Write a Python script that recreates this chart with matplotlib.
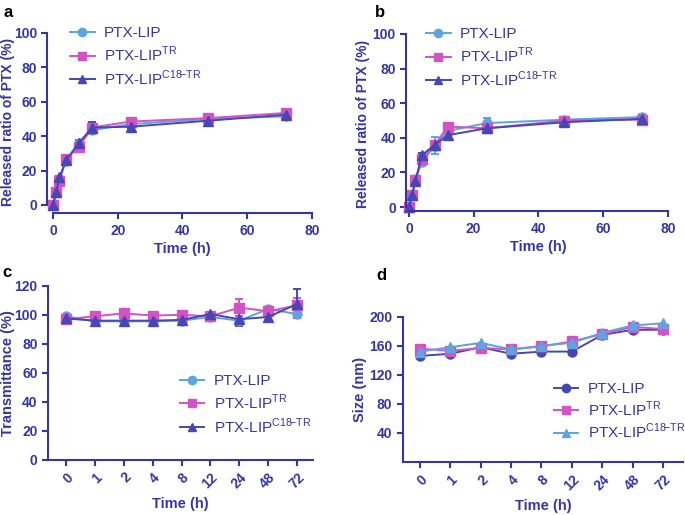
import matplotlib
matplotlib.use("Agg")
import matplotlib.pyplot as plt
from matplotlib.lines import Line2D

plt.rcParams['font.family'] = ['Liberation Sans', 'DejaVu Sans']
plt.rcParams['mathtext.fontset'] = 'custom'
plt.rcParams['mathtext.rm'] = 'Liberation Sans'

AX = '#3535a5'
LIGHT = '#5fa3df'
MAG = '#d453c4'
DARK = '#4646b4'

# release study (a, b)
t_rel = [0, 1, 2, 4, 8, 12, 24, 48, 72]
a_lip = [0, 7.5, 15, 25.5, 36, 43.5, 47, 50, 51.5]
a_tr = [0, 7.5, 14, 27, 33.5, 45, 48.5, 50.5, 53.5]
a_c18 = [0, 7.5, 16, 26, 36, 45, 45.5, 49, 52.5]
a_lip_err = [0, 1, 1.5, 1.5, 1.5, 1.5, 2, 2, 2]
a_tr_err = [0, 1, 1.5, 1.5, 2, 2, 2, 2, 2]
a_c18_err = [0, 1, 1, 1, 1.5, 3, 1.5, 1.5, 1.5]

b_lip = [0, 7, 16, 26, 35.5, 44, 48.5, 50.5, 52]
b_tr = [0, 7, 15.5, 28, 36, 46.5, 45.5, 50, 50.5]
b_c18 = [0, 7, 15, 30, 36, 41.5, 45.5, 49, 51]
b_lip_err = [0, 1, 2, 2, 5, 3, 3, 1.5, 2]
b_tr_err = [0, 1, 1.5, 1.5, 2, 2, 2, 1.5, 2.5]
b_c18_err = [0, 1, 1, 1, 2, 1.5, 1.5, 1.5, 1.5]

# stability (c, d)
t_cat = ['0', '1', '2', '4', '8', '12', '24', '48', '72']
c_lip = [99, 95.5, 95.5, 95.5, 96, 98.5, 96, 104, 100.5]
c_tr = [97, 99, 101, 99.5, 100, 99, 105, 102.5, 106.5]
c_c18 = [97.5, 96, 96, 96, 96.5, 100.5, 97, 98.5, 107.5]
c_lip_err = [1, 1, 1, 1, 1, 1, 1, 1, 1]
c_tr_err = [1, 1, 1, 1, 1, 1, 6, 1, 5]
c_c18_err = [1, 1, 1, 1, 1, 1, 5, 2, 10]

d_lip = [146, 149, 158, 149, 152, 152, 175, 182, 182]
d_tr = [156, 153, 157, 155, 159, 166, 176, 186, 183]
d_c18 = [152, 158, 164, 155, 160, 164, 178, 188, 191]

lab_lip = 'PTX-LIP'
lab_tr = r'PTX-LIP$^{\mathregular{TR}}$'
lab_c18 = r'PTX-LIP$^{\mathregular{C18}\!\mathregular{-TR}}$'

fig = plt.figure(figsize=(6.85, 5.15), dpi=100)
axa = fig.add_axes([0.0774, 0.602, 0.378, 0.334])
axb = fig.add_axes([0.597, 0.598, 0.378, 0.336])
axc = fig.add_axes([0.070, 0.107, 0.387, 0.338])
axd = fig.add_axes([0.588, 0.103, 0.409, 0.282])


def style(ax, out_x=0, out_y=0, rot=False):
    for s in ['top', 'right']:
        ax.spines[s].set_visible(False)
    for s in ['left', 'bottom']:
        ax.spines[s].set_color(AX)
        ax.spines[s].set_linewidth(1.5)
    ax.spines['left'].set_position(('outward', out_y))
    ax.spines['bottom'].set_position(('outward', out_x))
    ax.tick_params(colors=AX, width=1.5, length=4, direction='out', labelsize=10)
    if rot:
        ax.tick_params(axis='x', labelrotation=45)
    for lab in ax.get_xticklabels() + ax.get_yticklabels():
        lab.set_fontweight('bold')
    if rot:
        for lab in ax.get_xticklabels():
            lab.set_ha('right')
            lab.set_rotation_mode('anchor')


def series(ax, x, y, e, color, marker, label, ms=6.5):
    ax.errorbar(x, y, yerr=e, color=color, marker=marker, ms=ms, lw=1.4,
                capsize=3, elinewidth=1.4, capthick=1.4, label=label)


def handles(colors):
    return [Line2D([], [], color=c, marker=m, ms=6, lw=1.4)
            for c, m in zip(colors, ['o', 's', '^'])]


labels = [lab_lip, lab_tr, lab_c18]
leg_kw = dict(frameon=False, fontsize=11, labelcolor=AX, handlelength=1.6,
              handletextpad=0.6, labelspacing=0.3)

for ax, lip, tr, c18, le, te, ce, lx in [
        (axa, a_lip, a_tr, a_c18, a_lip_err, a_tr_err, a_c18_err, -0.145),
        (axb, b_lip, b_tr, b_c18, b_lip_err, b_tr_err, b_c18_err, -0.15)]:
    series(ax, t_rel, lip, le, LIGHT, 'o', lab_lip)
    series(ax, t_rel, tr, te, MAG, 's', lab_tr)
    series(ax, t_rel, c18, ce, DARK, '^', lab_c18)
    ax.set_xlim(0, 80)
    ax.set_ylim(0, 100)
    ax.set_xticks([0, 20, 40, 60, 80])
    ax.set_yticks([0, 20, 40, 60, 80, 100])
    ax.set_xlabel('Time (h)', fontsize=10.5, fontweight='bold', color=AX, labelpad=3)
    ax.set_ylabel('Released ratio of PTX (%)', fontsize=10, fontweight='bold', color=AX)
    ax.yaxis.set_label_coords(lx, 0.48)
    ax.legend(handles([LIGHT, MAG, DARK]), labels, loc='upper left',
              bbox_to_anchor=(0.013, 1.12), **leg_kw)
    for obj in ax.get_children():
        obj.set_clip_on(False)

style(axa, out_x=6, out_y=4)
style(axb, out_x=3, out_y=2)

xc = list(range(len(t_cat)))
series(axc, xc, c_lip, c_lip_err, LIGHT, 'o', lab_lip)
series(axc, xc, c_tr, c_tr_err, MAG, 's', lab_tr)
series(axc, xc, c_c18, c_c18_err, DARK, '^', lab_c18)
axc.set_xlim(-0.62, 8.55)
axc.set_ylim(0, 120)
axc.set_yticks([0, 20, 40, 60, 80, 100, 120])
axc.set_xticks(xc)
axc.set_xticklabels(t_cat)
axc.set_xlabel('Time (h)', fontsize=10.5, fontweight='bold', color=AX)
axc.set_ylabel('Transmittance (%)', fontsize=10.5, fontweight='bold', color=AX)
axc.yaxis.set_label_coords(-0.125, 0.5)
axc.legend(handles([LIGHT, MAG, DARK]), labels, loc='lower right',
           bbox_to_anchor=(1.045, 0.06), **leg_kw)
for obj in axc.get_children():
    obj.set_clip_on(False)
style(axc, rot=True)

axd.plot(xc, d_lip, color=DARK, marker='o', ms=6.5, lw=1.4, label=lab_lip)
axd.plot(xc, d_tr, color=MAG, marker='s', ms=6.5, lw=1.4, label=lab_tr)
axd.plot(xc, d_c18, color=LIGHT, marker='^', ms=6.5, lw=1.4, label=lab_c18)
axd.set_xlim(-0.56, 8.65)
axd.set_ylim(0, 200)
axd.set_yticks([40, 80, 120, 160, 200])
axd.set_xticks(xc)
axd.set_xticklabels(t_cat)
axd.set_xlabel('Time (h)', fontsize=10.5, fontweight='bold', color=AX)
axd.set_ylabel('Size (nm)', fontsize=10.5, fontweight='bold', color=AX)
axd.yaxis.set_label_coords(-0.129, 0.5)
leg_kw['labelspacing'] = 0.2
axd.legend(handles([DARK, MAG, LIGHT]), labels, loc='lower right',
           bbox_to_anchor=(1.057, 0.05), **leg_kw)
style(axd, rot=True)

for txt, x, y in [('a', 0.005, 0.975), ('b', 0.548, 0.975),
                  ('c', 0.003, 0.47), ('d', 0.55, 0.465)]:
    fig.text(x, y, txt, fontsize=12, fontweight='bold', color='black', va='center')

fig.savefig('out.png', dpi=100)
